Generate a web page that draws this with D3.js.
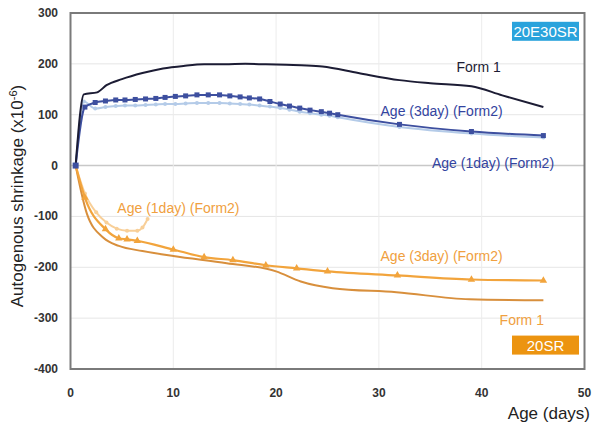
<!DOCTYPE html>
<html>
<head>
<meta charset="utf-8">
<script src="https://cdn.jsdelivr.net/npm/d3@7"></script>
<style>
  body { margin: 0; background: #fff; }
  text { font-family: "Liberation Sans", Arial, sans-serif; }
</style>
</head>
<body>
<svg id="chart" width="592" height="426"></svg>
<script>
// --- data ---
const xTicks = [0, 10, 20, 30, 40, 50]
const yTicks = [300, 200, 100, 0, -100, -200, -300, -400]

// 20E30SR (upper group)
const topForm1Days = [0.5, 1.3, 2.6, 3.5, 5, 7, 9, 11, 13, 15, 17, 19, 21, 23, 24.5, 28, 32, 35, 39, 42, 46]
const topForm1Vals = [0, 140, 144, 158, 170, 182, 191, 196, 199, 199, 200, 199, 198, 197, 195, 182, 168, 162, 156, 138, 115]

const top3dayDays = [0.5, 1.4, 2.4, 3.4, 4.4, 5.3, 6.3, 7.3, 8.3, 9.2, 10.2, 11.2, 12.3, 13.4, 14.5, 15.5, 16.5, 17.4, 18.4, 19.4, 20.4, 21.3, 22.3, 23.3, 24.4, 25.2, 26, 32, 39, 46]
const top3dayVals = [0, 115, 124, 127, 129, 129, 130, 131, 132, 134, 136, 137, 139, 139, 139, 137, 135, 133, 131, 126, 121, 117, 113, 109, 106, 103, 100, 81, 67, 59]

const top1dayDays = [0.5, 1.3, 2.4, 3.4, 4.4, 5.3, 6.3, 7.3, 8.3, 9.2, 10.2, 11.2, 12.3, 13.4, 14.5, 15.5, 16.5, 17.4, 18.4, 19.4, 20.4, 21.3, 22.3, 23.3, 24.4, 25.2, 26, 32, 39, 46]
const top1dayVals = [0, 126, 112, 115, 117, 118, 118, 119, 120, 121, 121, 122, 123, 123, 123, 122, 121, 120, 118, 116, 113, 110, 106, 103, 100, 98, 95, 76, 63, 55]

// 20SR (lower group)
const botForm1Days = [0.5, 1.6, 3.2, 4.7, 7, 10, 15.2, 20, 22.4, 25.5, 31.7, 38.8, 46]
const botForm1Vals = [0, -95, -142, -158, -168, -178, -192, -208, -228, -241, -249, -263, -265]

const bot3dayDays = [0.5, 1.4, 3.4, 4.7, 5.5, 6.5, 10, 13, 15.8, 19, 22, 25, 31.8, 39, 46]
const bot3dayVals = [0, -63, -125, -143, -145, -148, -165, -180, -186, -196, -202, -208, -216, -224, -226]

const bot1dayDays = [0.5, 1.4, 2.5, 3.5, 4.5, 5.5, 6.5, 7, 7.5]
const bot1dayVals = [0, -55, -92, -112, -124, -128, -128, -122, -105]

// --- chart ---
const svg = d3.select("#chart")
const pLeft = 70.5, pRight = 584.5, pTop = 13, pBottom = 369

const x = d3.scaleLinear().domain([0, 50]).range([pLeft, pRight])
const y = d3.scaleLinear().domain([-400, 300]).range([pBottom, pTop])

// gridlines
svg.append("g").selectAll("line")
  .data(yTicks.filter(d => d !== 300 && d !== -400))
  .enter().append("line")
    .attr("x1", pLeft).attr("x2", pRight)
    .attr("y1", d => y(d)).attr("y2", d => y(d))
    .attr("stroke", d => d === 0 ? "#c8c8c8" : "#e6e6e6")
    .attr("stroke-width", d => d === 0 ? 1.5 : 1)

svg.append("g").selectAll("line")
  .data(xTicks.filter(d => d !== 0 && d !== 50))
  .enter().append("line")
    .attr("x1", d => x(d)).attr("x2", d => x(d))
    .attr("y1", pTop).attr("y2", pBottom)
    .attr("stroke", "#ececec")

// axis tick labels
svg.append("g").selectAll("text")
  .data(yTicks)
  .enter().append("text")
    .attr("x", 58)
    .attr("y", d => y(d) + 4)
    .attr("text-anchor", "end")
    .attr("font-size", 12)
    .attr("font-weight", "bold")
    .attr("fill", "#333")
    .style("font-family", "'Liberation Sans Narrow', 'Liberation Sans', sans-serif")
    .text(d => d)

svg.append("g").selectAll("text")
  .data(xTicks)
  .enter().append("text")
    .attr("x", d => x(d))
    .attr("y", 397)
    .attr("text-anchor", "middle")
    .attr("font-size", 12)
    .attr("font-weight", "bold")
    .attr("fill", "#333")
    .style("font-family", "'Liberation Sans Narrow', 'Liberation Sans', sans-serif")
    .text(d => d)

// axis titles
svg.append("text")
  .attr("transform", "translate(23," + ((pTop + pBottom) / 2 + 5) + ") rotate(-90)")
  .attr("text-anchor", "middle")
  .attr("font-size", 17)
  .attr("fill", "#222")
  .html("Autogenous shrinkage (x10<tspan dy='-6' font-size='11'>-6</tspan><tspan dy='6'>)</tspan>")

svg.append("text")
  .attr("x", 590).attr("y", 419)
  .attr("text-anchor", "end")
  .attr("font-size", 17)
  .attr("fill", "#222")
  .text("Age (days)")

// lines
const line = d3.line().x(d => x(d[0])).y(d => y(d[1])).curve(d3.curveMonotoneX)
const pairs = (xs, ys) => xs.map((d, i) => [d, ys[i]])

const series = [
  { days: bot1dayDays, vals: bot1dayVals, color: "#f8cf98", width: 2, marker: "dot" },
  { days: botForm1Days, vals: botForm1Vals, color: "#d88f3c", width: 2, marker: null },
  { days: bot3dayDays, vals: bot3dayVals, color: "#f2a43c", width: 2.2, marker: "tri" },
  { days: top1dayDays, vals: top1dayVals, color: "#b4cbe8", width: 2, marker: "dot" },
  { days: top3dayDays, vals: top3dayVals, color: "#3d4f9f", width: 2, marker: "sq" },
  { days: topForm1Days, vals: topForm1Vals, color: "#1c1c34", width: 2, marker: null }
]

series.forEach(s => {
  const pts = pairs(s.days, s.vals)
  svg.append("path")
    .datum(pts)
    .attr("fill", "none")
    .attr("stroke", s.color)
    .attr("stroke-width", s.width)
    .attr("d", line)

  if (s.marker === "sq") {
    svg.append("g").selectAll("rect")
      .data(pts.slice(1))
      .enter().append("rect")
        .attr("x", d => x(d[0]) - 2.5).attr("y", d => y(d[1]) - 2.5)
        .attr("width", 5).attr("height", 5)
        .attr("fill", s.color)
  } else if (s.marker === "tri") {
    svg.append("g").selectAll("path")
      .data(pts.slice(1))
      .enter().append("path")
        .attr("d", d3.symbol().type(d3.symbolTriangle).size(24))
        .attr("transform", d => "translate(" + x(d[0]) + "," + y(d[1]) + ")")
        .attr("fill", s.color)
  } else if (s.marker === "dot") {
    svg.append("g").selectAll("circle")
      .data(pts.slice(1))
      .enter().append("circle")
        .attr("cx", d => x(d[0])).attr("cy", d => y(d[1]))
        .attr("r", 2)
        .attr("fill", s.color)
  }
})

// starting point
svg.append("rect")
  .attr("x", x(0.5) - 3).attr("y", y(0) - 3)
  .attr("width", 6).attr("height", 6)
  .attr("fill", "#3d4f9f")

// frame
svg.append("rect")
  .attr("x", pLeft).attr("y", pTop)
  .attr("width", pRight - pLeft).attr("height", pBottom - pTop)
  .attr("fill", "none")
  .attr("stroke", "#7a7a7a")
  .attr("stroke-width", 2)

// series labels
const labelText = ["Form 1", "Age (3day) (Form2)", "Age (1day) (Form2)", "Age (1day) (Form2)", "Age (3day) (Form2)", "Form 1"]
const labelDay = [39.7, 36.1, 41.1, 10.5, 36.1, 43.9]
const labelVal = [194, 107, 6, -83, -178, -303]
const labelColor = ["#1c1c34", "#3344a0", "#3344a0", "#f0a040", "#f0a040", "#f0a040"]

svg.append("g").selectAll("text")
  .data(labelText)
  .enter().append("text")
    .attr("x", (d, i) => x(labelDay[i]))
    .attr("y", (d, i) => y(labelVal[i]) + 5)
    .attr("text-anchor", "middle")
    .attr("font-size", 14)
    .attr("fill", (d, i) => labelColor[i])
    .text(d => d)

// group tags
const tags = [
  { text: "20E30SR", val: 265, bg: "#2aa3dc" },
  { text: "20SR", val: -352, bg: "#ec9410" }
]
tags.forEach(t => {
  svg.append("rect")
    .attr("x", 512).attr("y", y(t.val) - 9)
    .attr("width", 67).attr("height", 19)
    .attr("fill", t.bg)
  svg.append("text")
    .attr("x", 545.5).attr("y", y(t.val) + 6)
    .attr("text-anchor", "middle")
    .attr("font-size", 15)
    .attr("fill", "#fff")
    .text(t.text)
})
</script>
</body>
</html>
